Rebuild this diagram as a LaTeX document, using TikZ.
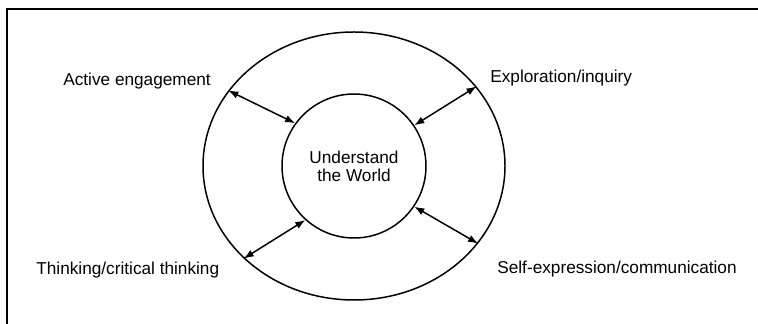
\documentclass[tikz,border=0pt]{standalone}
\usepackage{fontspec}
\setmainfont{Liberation Sans}
\usepackage{tikz}
\usetikzlibrary{shapes.geometric, arrows.meta, positioning}

\begin{document}
\begin{tikzpicture}[
  ring/.style={draw, line width=0.85pt, inner sep=0pt},
  topic/.style={anchor=base west, inner sep=0pt, font=\fontsize{9.8}{10.2}\selectfont},
  link/.style={{Latex[length=2mm,width=1.5mm]}-{Latex[length=2mm,width=1.5mm]}, line width=0.85pt}
]
  \useasboundingbox (0,0) rectangle (15.16,-6.48);
  \draw[line width=1.1pt] (0.146,-6.48) |- (15.16,-0.186);

  \node[ring, ellipse, minimum width=6.04cm, minimum height=5.36cm] (sphere) at (7.08,-3.32) {};
  \node[ring, circle, minimum size=2.88cm, align=center, font=\fontsize{9.8}{10.2}\selectfont] (world) at (7.08,-3.32) {Understand\\the World};

  \node[topic] (active) at (1.26,-1.71) {Active engagement};
  \node[topic] (explore) at (9.80,-1.65) {Exploration/inquiry};
  \node[topic] (think) at (0.72,-5.49) {Thinking/critical thinking};
  \node[topic] (express) at (9.94,-5.48) {Self-expression/communication};

  \draw[link] (sphere.149) -- (world.144);
  \draw[link] (sphere.33) -- (world.34);
  \draw[link] (sphere.-32) -- (world.-34);
  \draw[link] (sphere.-140) -- (world.-132);
\end{tikzpicture}
\end{document}
